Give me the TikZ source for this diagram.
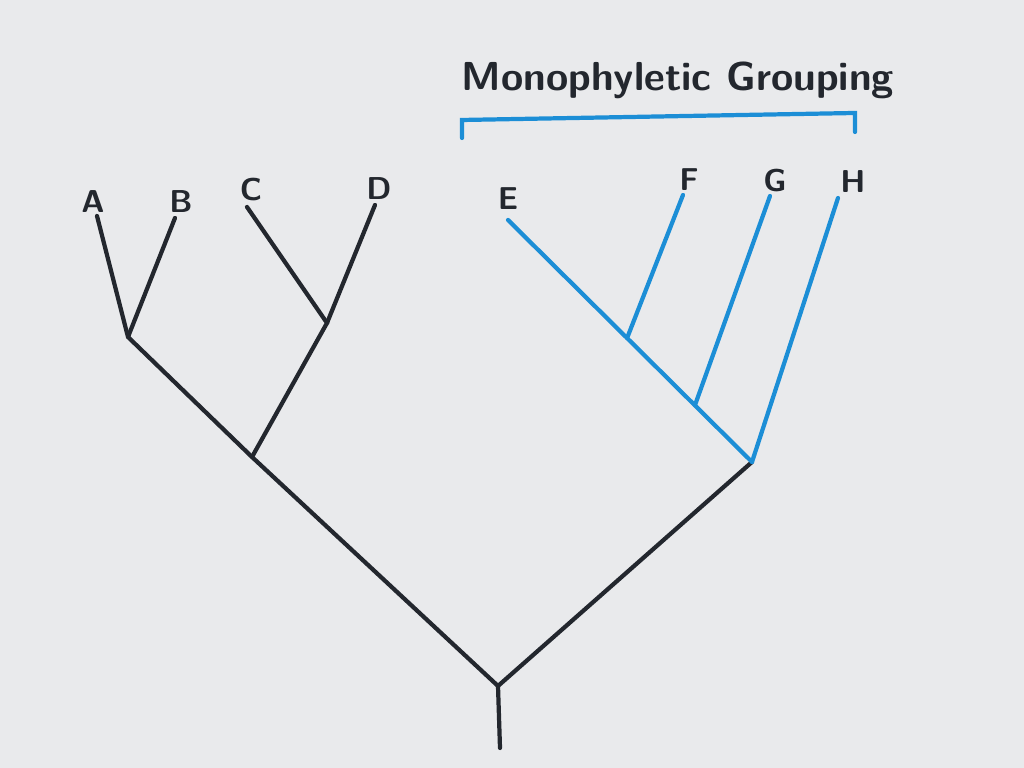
\documentclass[tikz,border=0pt]{standalone}
\usepackage{tikz}
\usetikzlibrary{calc}
\definecolor{paper}{HTML}{E9EAEC}
\definecolor{ink}{HTML}{23272E}
\definecolor{clade}{HTML}{1C8ED6}

\begin{document}
\begin{tikzpicture}[x=0.01cm,y=-0.01cm,line cap=round,
  branch/.style={line width=1.2pt,ink},
  mono/.style={line width=1.2pt,clade},
  taxon/.style={font=\sffamily\bfseries\small,ink}]
  \fill[paper] (0,0) rectangle (1024,768);
  % internal nodes of the tree
  \coordinate (root) at (500,748);
  \coordinate (fork) at (498,686);
  \coordinate (nABCD) at (252,457);
  \coordinate (nAB) at (128,337);
  \coordinate (nCD) at (327,323);
  \coordinate (nEH) at (752,462);
  % branch tips
  \coordinate (tA) at (97,216);
  \coordinate (tB) at (175,218);
  \coordinate (tC) at (247,207);
  \coordinate (tD) at (375,205);
  \coordinate (tE) at (508,220);
  \coordinate (tF) at (683,195);
  \coordinate (tG) at (770,196);
  \coordinate (tH) at (838,198);
  \coordinate (nF) at ($(nEH)!0.512!(tE)$);
  \coordinate (nG) at ($(nEH)!0.234!(tE)$);
  % taxa
  \node[taxon] (A) at (93,202) {A};
  \node[taxon] (B) at (181,202) {B};
  \node[taxon] (C) at (251,190) {C};
  \node[taxon] (D) at (379,189) {D};
  \node[taxon] (E) at (508,199) {E};
  \node[taxon] (F) at (689,180) {F};
  \node[taxon] (G) at (775,181) {G};
  \node[taxon] (H) at (853,182) {H};
  % black part of the tree
  \draw[branch] (root) -- (fork) -- (nABCD) -- (nAB) -- (tA);
  \draw[branch] (nAB) -- (tB);
  \draw[branch] (nABCD) -- (nCD) -- (tC);
  \draw[branch] (nCD) -- (tD);
  \draw[branch] (fork) -- (nEH);
  % the monophyletic clade
  \draw[mono] (nEH) -- (tE);
  \draw[mono] (nF) -- (tF);
  \draw[mono] (nG) -- (tG);
  \draw[mono] (nEH) -- (tH);
  % bracket and title
  \coordinate (bl) at (462,120);
  \coordinate (br) at (855,113);
  \draw[mono] ($(bl)+(0,18)$) -- (bl) -- (br) -- ($(br)+(0,19)$);
  \node[font=\sffamily\bfseries\fontsize{11.5}{13}\selectfont,ink] (title) at (678,80) {Monophyletic Grouping};
\end{tikzpicture}
\end{document}
